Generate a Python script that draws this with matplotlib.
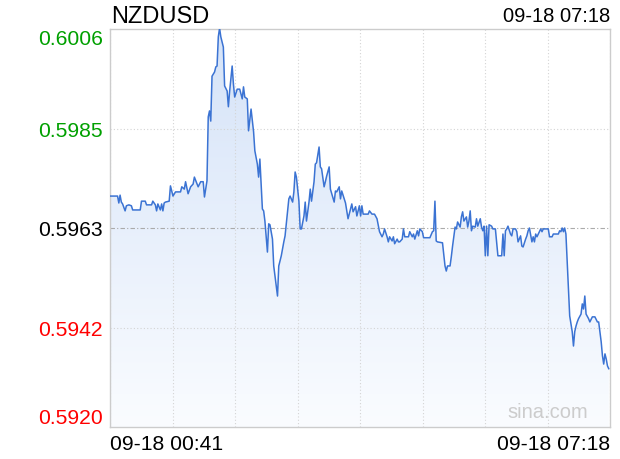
import matplotlib
matplotlib.use('Agg')
import matplotlib.pyplot as plt
import numpy as np
from matplotlib.colors import LinearSegmentedColormap

plt.rcParams['font.family'] = ['Liberation Sans', 'DejaVu Sans']

symbol = 'NZDUSD'
start_label = '09-18 00:41'
end_label = '09-18 07:18'
total_minutes = 397
prev_close = 0.5963

# minutes since 00:41 and price
minutes = [0, 3, 6, 7, 8, 9, 10, 12, 13, 15, 17, 18, 21, 24, 25, 28, 29, 33, 34, 36,
           37, 38, 40, 41, 42, 43, 44, 47, 48, 50, 52, 56, 57, 59, 60, 62, 64, 66, 67, 70,
           72, 74, 75, 77, 78, 79, 80, 81, 83, 84, 85, 86, 87, 88, 90, 91, 93, 94, 95, 97,
           98, 99, 101, 103, 105, 106, 107, 109, 110, 112, 114, 115, 117, 118, 119, 121, 122, 123, 125, 126,
           127, 129, 130, 133, 134, 136, 138, 139, 142, 143, 145, 146, 147, 148, 150, 151, 152, 154, 155, 156,
           158, 159, 160, 162, 163, 164, 166, 167, 168, 170, 171, 172, 174, 175, 178, 179, 180, 182, 183, 184,
           186, 187, 189, 191, 192, 193, 195, 196, 198, 199, 200, 201, 202, 205, 206, 208, 210, 212, 214, 216,
           217, 218, 220, 221, 222, 224, 225, 226, 228, 229, 230, 232, 233, 234, 237, 238, 240, 241, 242, 244,
           245, 246, 248, 249, 254, 256, 257, 258, 259, 260, 264, 266, 267, 268, 270, 271, 272, 274, 275, 276,
           278, 279, 280, 281, 283, 284, 285, 286, 287, 288, 290, 291, 292, 294, 295, 296, 297, 298, 299, 300,
           301, 303, 304, 306, 308, 311, 312, 313, 314, 315, 316, 318, 319, 320, 322, 323, 324, 326, 327, 328,
           330, 331, 332, 333, 335, 336, 337, 338, 339, 341, 342, 343, 344, 348, 349, 351, 352, 356, 357, 358,
           359, 360, 361, 362, 363, 364, 365, 367, 368, 369, 370, 371, 372, 374, 375, 376, 377, 378, 380, 381,
           383, 385, 387, 388, 390, 391, 392, 393, 394, 395, 396]
prices = [0.59699, 0.59699, 0.59699, 0.59684, 0.59701, 0.59686, 0.59682, 0.59667, 0.59678, 0.59680,
          0.59678, 0.59669, 0.59669, 0.59669, 0.59688, 0.59688, 0.59680, 0.59680, 0.59688, 0.59680,
          0.59667, 0.59682, 0.59669, 0.59682, 0.59667, 0.59684, 0.59686, 0.59688, 0.59721, 0.59699,
          0.59708, 0.59708, 0.59719, 0.59714, 0.59730, 0.59704, 0.59719, 0.59725, 0.59740, 0.59719,
          0.59730, 0.59730, 0.59697, 0.59732, 0.59870, 0.59883, 0.59861, 0.59958, 0.59967, 0.59978,
          0.59980, 0.60043, 0.60062, 0.60043, 0.60021, 0.59937, 0.59926, 0.59892, 0.59926, 0.59980,
          0.59941, 0.59913, 0.59930, 0.59930, 0.59909, 0.59935, 0.59913, 0.59909, 0.59840, 0.59887,
          0.59838, 0.59797, 0.59768, 0.59740, 0.59779, 0.59671, 0.59667, 0.59645, 0.59578, 0.59639,
          0.59637, 0.59606, 0.59548, 0.59483, 0.59548, 0.59570, 0.59600, 0.59613, 0.59693, 0.59699,
          0.59686, 0.59708, 0.59751, 0.59740, 0.59688, 0.59628, 0.59628, 0.59656, 0.59686, 0.59645,
          0.59686, 0.59714, 0.59688, 0.59730, 0.59768, 0.59771, 0.59805, 0.59762, 0.59758, 0.59719,
          0.59730, 0.59742, 0.59762, 0.59714, 0.59686, 0.59710, 0.59708, 0.59719, 0.59693, 0.59710,
          0.59693, 0.59684, 0.59650, 0.59671, 0.59682, 0.59665, 0.59676, 0.59656, 0.59678, 0.59656,
          0.59678, 0.59660, 0.59660, 0.59660, 0.59667, 0.59660, 0.59660, 0.59650, 0.59622, 0.59611,
          0.59617, 0.59628, 0.59611, 0.59600, 0.59611, 0.59602, 0.59611, 0.59596, 0.59606, 0.59600,
          0.59600, 0.59606, 0.59628, 0.59611, 0.59611, 0.59622, 0.59611, 0.59617, 0.59606, 0.59624,
          0.59613, 0.59628, 0.59622, 0.59609, 0.59609, 0.59622, 0.59624, 0.59688, 0.59602, 0.59600,
          0.59598, 0.59548, 0.59537, 0.59548, 0.59548, 0.59568, 0.59591, 0.59632, 0.59628, 0.59643,
          0.59632, 0.59654, 0.59665, 0.59645, 0.59654, 0.59632, 0.59645, 0.59667, 0.59624, 0.59634,
          0.59632, 0.59650, 0.59634, 0.59650, 0.59632, 0.59624, 0.59634, 0.59570, 0.59634, 0.59570,
          0.59637, 0.59634, 0.59628, 0.59628, 0.59570, 0.59570, 0.59617, 0.59570, 0.59624, 0.59628,
          0.59634, 0.59617, 0.59613, 0.59628, 0.59628, 0.59622, 0.59600, 0.59613, 0.59591, 0.59589,
          0.59606, 0.59613, 0.59624, 0.59630, 0.59600, 0.59611, 0.59600, 0.59617, 0.59611, 0.59622,
          0.59628, 0.59622, 0.59628, 0.59628, 0.59611, 0.59611, 0.59617, 0.59617, 0.59624, 0.59622,
          0.59630, 0.59622, 0.59630, 0.59617, 0.59557, 0.59492, 0.59440, 0.59406, 0.59375, 0.59406,
          0.59418, 0.59427, 0.59434, 0.59444, 0.59466, 0.59455, 0.59483, 0.59444, 0.59434, 0.59427,
          0.59438, 0.59438, 0.59427, 0.59427, 0.59384, 0.59354, 0.59336, 0.59358, 0.59347, 0.59332,
          0.59326]

y_ticks = [0.5920, 0.59415, 0.5963, 0.59845, 0.6006]
y_labels = ['0.5920', '0.5942', '0.5963', '0.5985', '0.6006']
y_colors = ['#ff0000', '#ff0000', '#000000', '#00a000', '#00a000']

fig = plt.figure(figsize=(6.2, 4.6), dpi=100)
ax = fig.add_axes([110 / 620, 1 - 428 / 460, 500 / 620, 398 / 460])
y_min, y_max = y_ticks[0], y_ticks[-1]
ax.set_xlim(0, total_minutes)
ax.set_ylim(y_min, y_max)

# gradient area under the line
poly = ax.fill_between(minutes, prices, y_min, color='none', lw=0)
cmap = LinearSegmentedColormap.from_list('area', ['#fafcff', '#d5e3f8'])
grad = np.linspace(0, 1, 256).reshape(-1, 1)
img = ax.imshow(grad, cmap=cmap, aspect='auto', origin='lower',
                extent=[0, total_minutes, y_min, y_max], zorder=1)
img.set_clip_path(poly.get_paths()[0], transform=ax.transData)

ax.plot(minutes, prices, color='#3b73d3', lw=1.1, zorder=3)

# grid
ax.set_xticks(np.linspace(0, total_minutes, 9))
ax.xaxis.grid(True, linestyle=(0, (1, 2)), color='#d4d4d4', lw=0.8)
for v in y_ticks[1:-1]:
    if v == prev_close:
        ax.axhline(v, color='#aaaaaa', lw=0.8, linestyle=(0, (4, 2, 1, 2)), zorder=2)
    else:
        ax.axhline(v, color='#d4d4d4', lw=0.8, linestyle=(0, (1, 2)), zorder=2)

ax.set_yticks(y_ticks)
ax.set_yticklabels(y_labels, fontsize=15.2)
for lab, c in zip(ax.get_yticklabels(), y_colors):
    lab.set_color(c)
labels = ax.get_yticklabels()
labels[0].set_verticalalignment('bottom')
labels[-1].set_verticalalignment('top')
ax.tick_params(axis='y', length=0, pad=5)
ax.tick_params(axis='x', length=0, labelbottom=False)
for s in ax.spines.values():
    s.set_color('#cccccc')
    s.set_linewidth(1.0)

fig.text(111 / 620, 1 - 17 / 460, symbol, fontsize=17, va='center', ha='left')
fig.text(610 / 620, 1 - 17 / 460, end_label, fontsize=14.5, va='center', ha='right')
fig.text(110 / 620, 1 - 445 / 460, start_label, fontsize=15.2, va='center', ha='left')
fig.text(610 / 620, 1 - 445 / 460, end_label, fontsize=15.2, va='center', ha='right')
ax.text(0.956, 0.04, 'sina.com', transform=ax.transAxes, fontsize=14.5,
        color='#cccccc', ha='right', va='center', zorder=4)

fig.savefig('out.png', dpi=100)
